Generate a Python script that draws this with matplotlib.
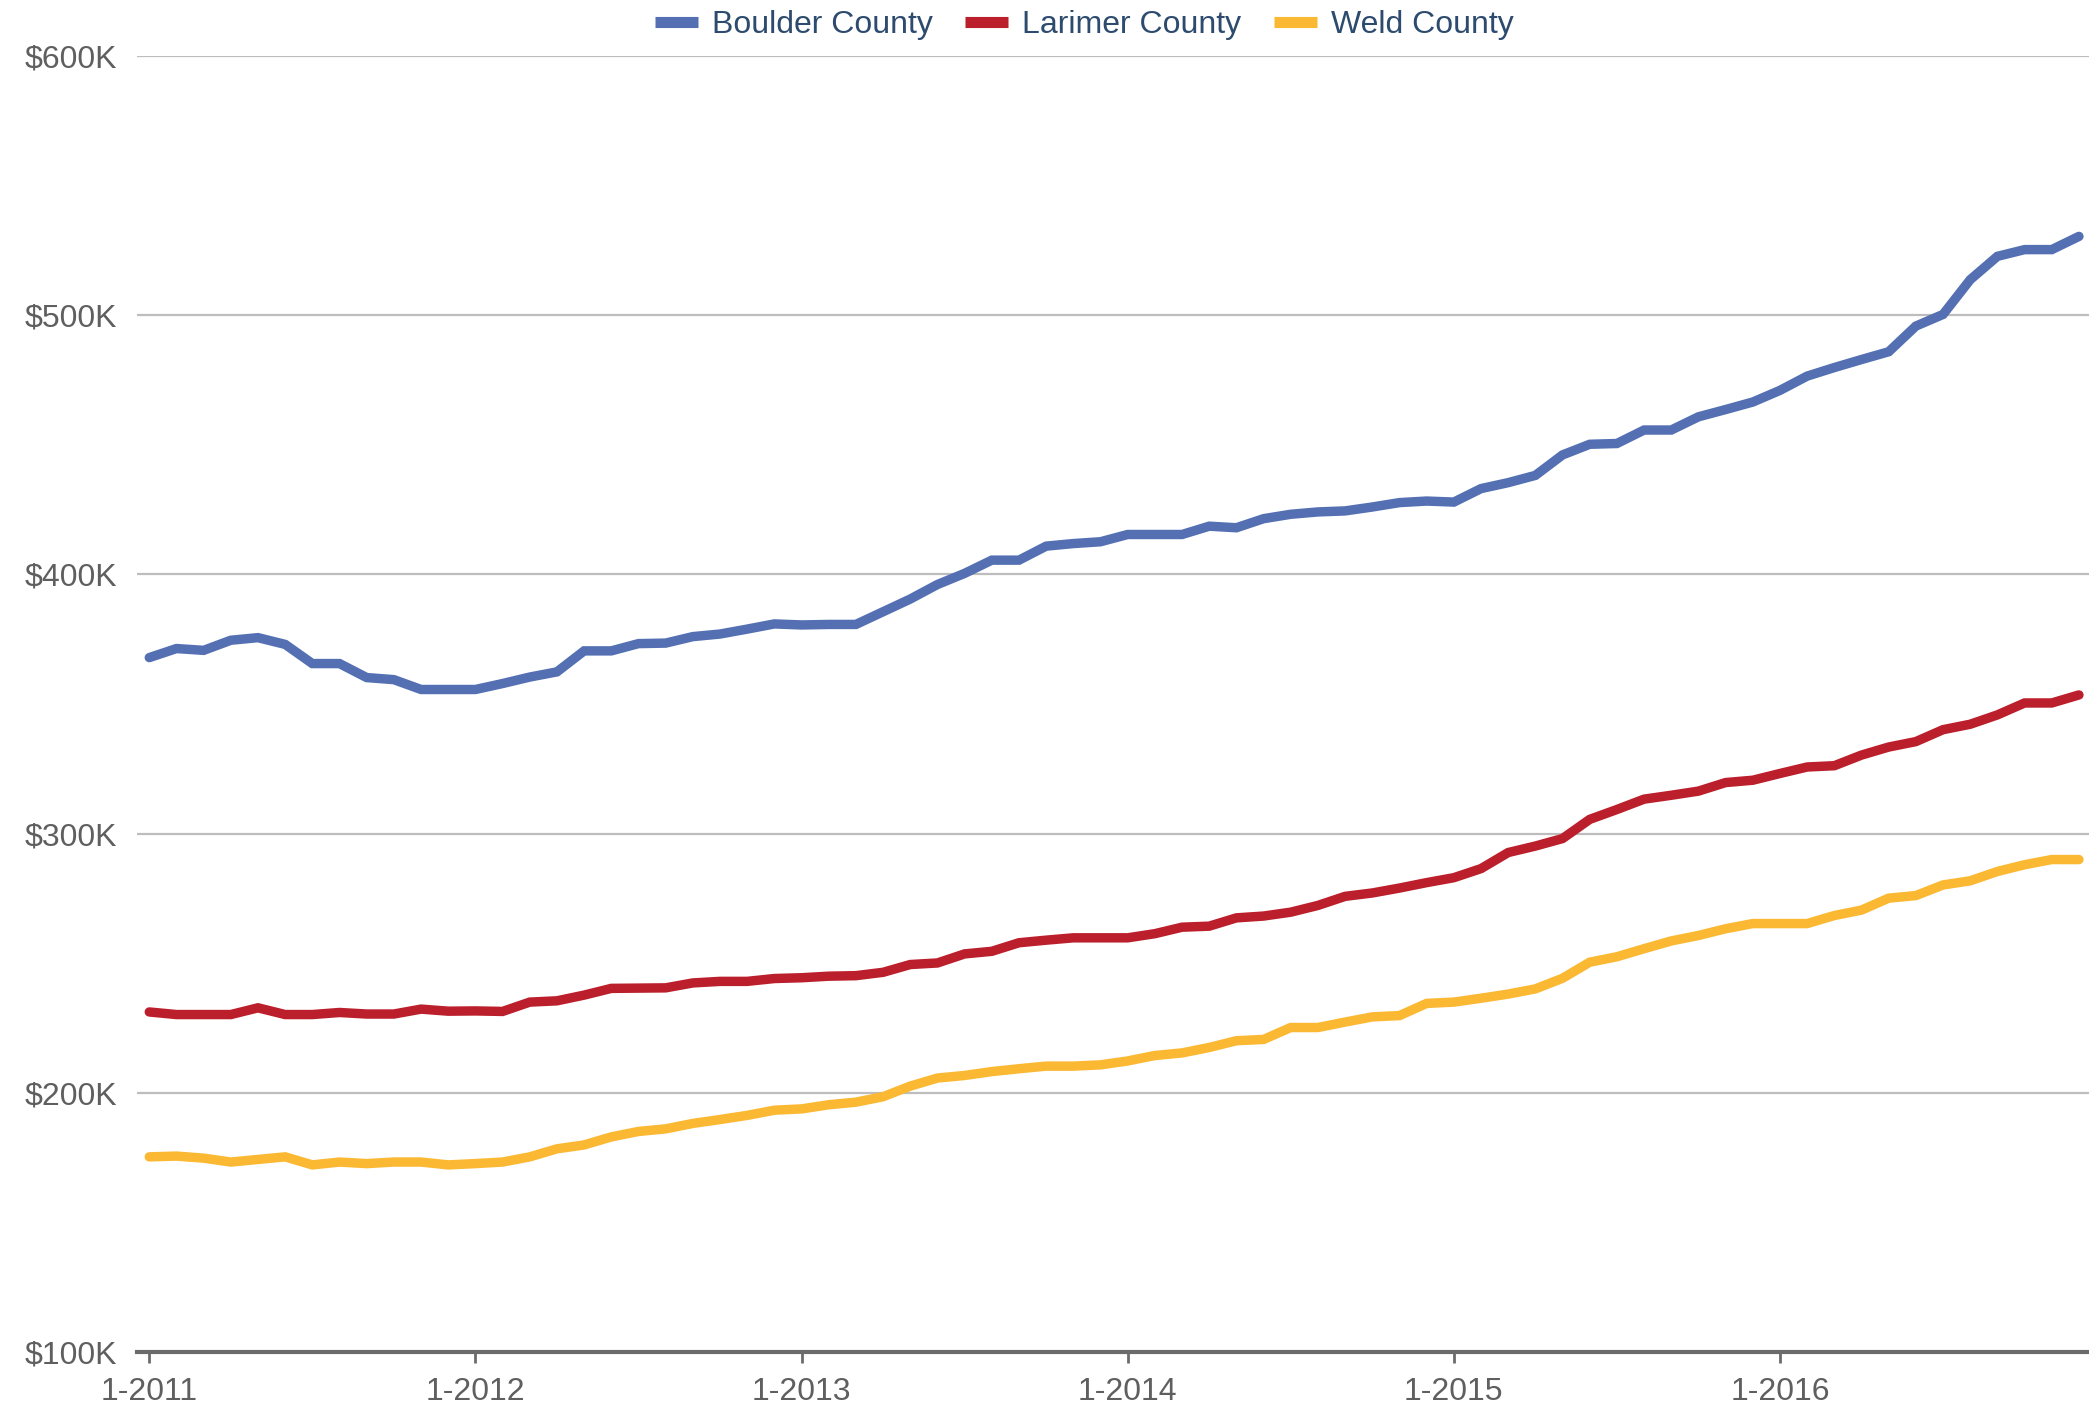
import matplotlib
matplotlib.use("Agg")
import matplotlib.pyplot as plt
from matplotlib.lines import Line2D
from matplotlib.ticker import FuncFormatter
import numpy as np

# median home price, thousands of dollars, monthly Jan 2011 - Dec 2016
boulder = [367.9, 371.4, 370.7, 374.6, 375.6, 373.0, 365.6, 365.6, 360.2, 359.4, 355.6, 355.6,
           355.6, 357.9, 360.4, 362.4, 370.5, 370.5, 373.3, 373.5, 376.0, 377.0, 378.9, 380.9,
           380.5, 380.7, 380.7, 385.6, 390.5, 396.1, 400.4, 405.5, 405.5, 410.9, 411.9, 412.6,
           415.4, 415.4, 415.4, 418.6, 418.0, 421.5, 423.2, 424.1, 424.5, 426.0, 427.7, 428.3,
           427.9, 433.1, 435.4, 438.2, 446.1, 450.2, 450.5, 455.7, 455.7, 460.8, 463.6, 466.5,
           471.0, 476.5, 479.8, 482.9, 485.9, 495.8, 500.3, 513.7, 522.7, 525.3, 525.3, 530.4]
larimer = [231.2, 230.2, 230.2, 230.2, 232.8, 230.2, 230.2, 231.0, 230.4, 230.4, 232.3, 231.5,
           231.6, 231.4, 235.0, 235.5, 237.7, 240.3, 240.4, 240.5, 242.4, 243.0, 243.0, 244.1,
           244.4, 245.0, 245.2, 246.5, 249.5, 250.1, 253.6, 254.6, 257.9, 258.9, 259.8, 259.8,
           259.8, 261.4, 263.9, 264.3, 267.5, 268.2, 269.7, 272.3, 275.8, 277.1, 279.0, 281.1,
           283.0, 286.5, 292.7, 295.2, 298.1, 305.5, 309.3, 313.3, 314.8, 316.4, 319.7, 320.6,
           323.2, 325.7, 326.2, 330.3, 333.4, 335.5, 340.1, 342.2, 345.8, 350.4, 350.4, 353.5]
weld = [175.3, 175.6, 174.8, 173.3, 174.3, 175.3, 172.2, 173.3, 172.7, 173.3, 173.3, 172.2,
        172.7, 173.3, 175.3, 178.4, 179.9, 183.0, 185.1, 186.1, 188.2, 189.7, 191.3, 193.3,
        193.8, 195.4, 196.4, 198.5, 202.6, 205.7, 206.7, 208.2, 209.3, 210.3, 210.3, 210.8,
        212.3, 214.4, 215.4, 217.5, 220.1, 220.6, 225.2, 225.2, 227.3, 229.3, 229.8, 234.5,
        235.0, 236.5, 238.1, 240.1, 244.2, 250.4, 252.5, 255.6, 258.6, 260.7, 263.3, 265.3,
        265.3, 265.3, 268.4, 270.5, 275.1, 276.1, 280.2, 281.8, 285.4, 288.0, 290.0, 290.0]
series_names = ["Boulder County", "Larimer County", "Weld County"]
colors = ["#5470b3", "#bb1f2b", "#fbb832"]
year_labels = ["1-2011", "1-2012", "1-2013", "1-2014", "1-2015", "1-2016"]

months = np.arange(len(boulder))
fam = ['Liberation Sans', 'DejaVu Sans']

fig = plt.figure(figsize=(20.89, 14.10), dpi=100)
ax = fig.add_axes([0.0656, 0.0411, 0.9344, 0.9192])
plt.rcParams['font.family'] = fam

for vals, c in zip([boulder, larimer, weld], colors):
    ax.plot(months, np.array(vals) * 1000, color=c, lw=6.8, solid_capstyle="round",
            solid_joinstyle="miter", zorder=3)

ax.set_ylim(100000, 600000)
ax.set_xlim(-0.45, 71.37)
ax.set_yticks(np.arange(100000, 600001, 100000))
ax.yaxis.set_major_formatter(FuncFormatter(lambda v, p: "$%dK" % (v / 1000)))
ax.set_xticks(np.arange(0, 72, 12))
ax.set_xticklabels(year_labels)

ax.grid(axis="y", color="#bdbdbd", lw=1.6)
ax.set_axisbelow(True)
for s in ["left", "right", "top"]:
    ax.spines[s].set_visible(False)
ax.spines["bottom"].set_color("#6b6b6b")
ax.spines["bottom"].set_linewidth(3)
ax.spines["bottom"].set_zorder(4)

ax.tick_params(axis="y", length=0, pad=14, labelsize=23, labelcolor="#5f5f5f")
ax.tick_params(axis="x", length=8, width=2, color="#6b6b6b", pad=10, labelsize=23,
               labelcolor="#5f5f5f")
for t in ax.get_xticklabels() + ax.get_yticklabels():
    t.set_family(fam)
for t in ax.get_yticklabels():
    t.set_verticalalignment("center_baseline")

handles = [Line2D([0], [0], color=c, lw=8, solid_capstyle="butt") for c in colors]
leg = fig.legend(handles, series_names, loc="center", bbox_to_anchor=(0.519, 0.982),
                 ncol=3, frameon=False, handlelength=1.35,
                 handletextpad=0.45, columnspacing=1.0, prop={'family': fam, 'size': 23})
for t in leg.get_texts():
    t.set_color("#2d4b6e")

fig.savefig("out.png", dpi=100)
